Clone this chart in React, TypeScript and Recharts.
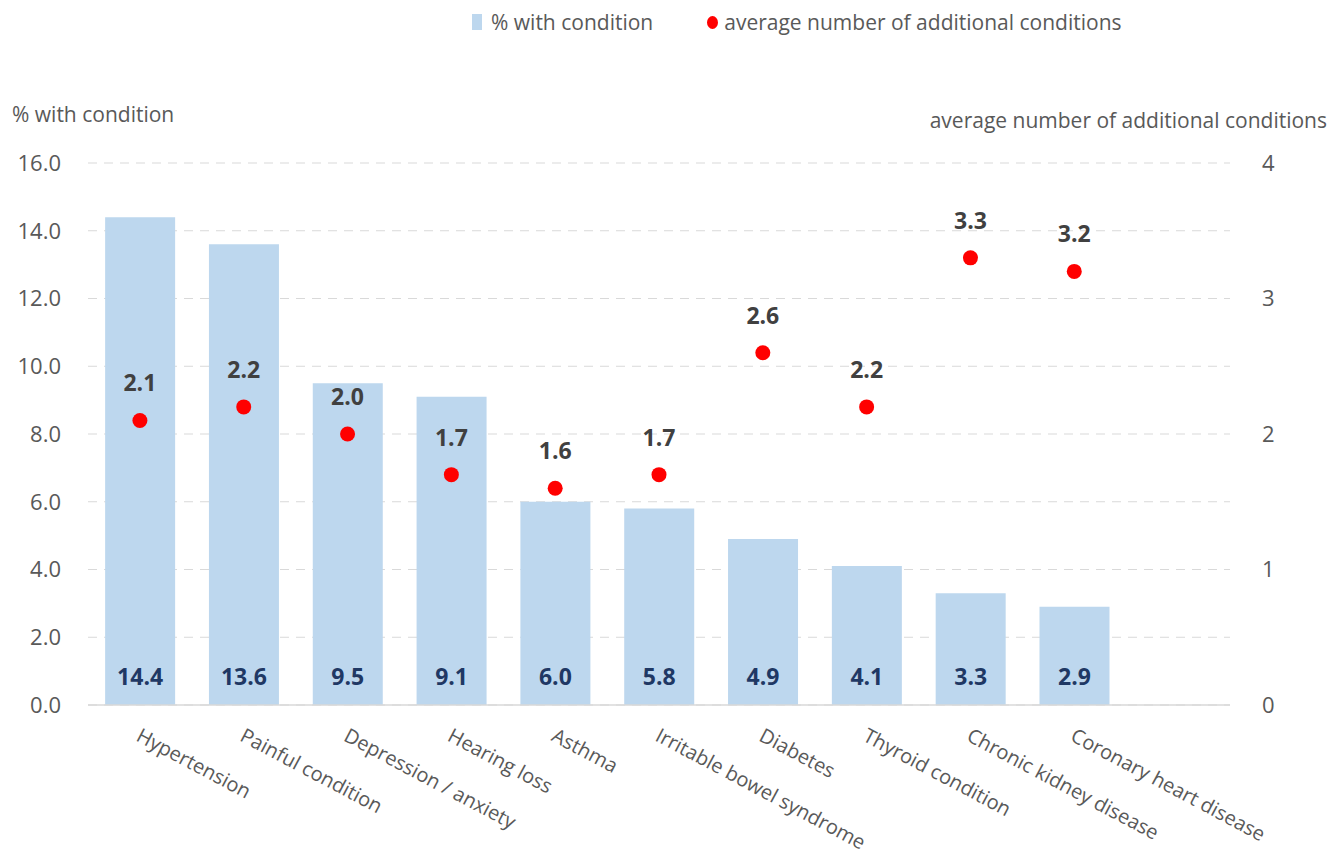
import React from "react"
import { ComposedChart, Bar, Line, XAxis, YAxis, CartesianGrid, Legend, LabelList } from "recharts"

const categories = [
  "Hypertension",
  "Painful condition",
  "Depression / anxiety",
  "Hearing loss",
  "Asthma",
  "Irritable bowel syndrome",
  "Diabetes",
  "Thyroid condition",
  "Chronic kidney disease",
  "Coronary heart disease",
]
const pctWithCondition = [14.4, 13.6, 9.5, 9.1, 6.0, 5.8, 4.9, 4.1, 3.3, 2.9]
const avgAdditional = [2.1, 2.2, 2.0, 1.7, 1.6, 1.7, 2.6, 2.2, 3.3, 3.2]
const leftTicks = [0, 2, 4, 6, 8, 10, 12, 14, 16]
const rightTicks = [0, 1, 2, 3, 4]

const BAR_NAME = "% with condition"
const DOT_NAME = "average number of additional conditions"

// one blank slot at the end keeps the empty gap before the right axis
const data = [
  ...categories.map((name, i) => ({ name, pct: pctWithCondition[i], avg: avgAdditional[i] })),
  { name: "", pct: null, avg: null },
]

const FONT = "'Open Sans', 'Noto Sans', sans-serif"
const GREY = "#595959"

const CategoryTick = ({ x, y, payload }: any) => {
  if (!payload?.value) return null
  const tx = x - 5
  const ty = y + 27
  return (
    <text
      x={tx}
      y={ty}
      transform={`rotate(28 ${tx} ${ty})`}
      textAnchor="start"
      fill={GREY}
      fontSize={20}
      fontFamily={FONT}
    >
      {payload.value}
    </text>
  )
}

const RedDot = ({ cx, cy, value }: any) => {
  if (value == null || cy == null) return <g />
  return <circle cx={cx} cy={cy} r={7.5} fill="#FF0000" />
}

const BarValue = ({ x, y, width, height, value }: any) => {
  if (value == null) return null
  return (
    <text
      x={x + width / 2}
      y={y + height - 20}
      textAnchor="middle"
      fill="#1F3864"
      fontSize={23}
      fontWeight="bold"
      fontFamily={FONT}
    >
      {value.toFixed(1)}
    </text>
  )
}

const DotValue = ({ x, y, value }: any) => {
  if (value == null) return null
  return (
    <text
      x={x}
      y={y - 29}
      textAnchor="middle"
      fill="#404040"
      fontSize={23}
      fontWeight="bold"
      fontFamily={FONT}
    >
      {value.toFixed(1)}
    </text>
  )
}

const TopLegend = () => (
  <div
    style={{
      display: "flex",
      alignItems: "center",
      paddingLeft: 472,
      fontFamily: FONT,
      fontSize: 21,
      color: GREY,
      lineHeight: "24px",
    }}
  >
    <span style={{ display: "inline-block", width: 10, height: 16, background: "#BDD7EE", marginRight: 9 }} />
    <span>{BAR_NAME}</span>
    <span
      style={{
        display: "inline-block",
        width: 11,
        height: 13,
        borderRadius: "50%",
        background: "#FF0000",
        marginLeft: 54,
        marginRight: 6,
      }}
    />
    <span>{DOT_NAME}</span>
  </div>
)

export default function App() {
  return (
    <div style={{ position: "absolute", left: 0, top: 0, background: "#fff" }}>
      <ComposedChart
        width={1330}
        height={858}
        data={data}
        margin={{ top: 139, right: 0, bottom: 0, left: 0 }}
        barCategoryGap="16.5%"
      >
        <CartesianGrid vertical={false} yAxisId="left" stroke="#D9D9D9" strokeDasharray="9 7" />
        <XAxis
          dataKey="name"
          axisLine={{ stroke: "#D9D9D9", strokeWidth: 1.5 }}
          tickLine={false}
          height={153}
          interval={0}
          tick={<CategoryTick />}
        />
        <YAxis
          yAxisId="left"
          orientation="left"
          width={88}
          domain={[0, 16]}
          ticks={leftTicks}
          tickFormatter={(v: number) => v.toFixed(1)}
          axisLine={false}
          tickLine={false}
          tickMargin={21}
          tick={{ fill: GREY, fontSize: 22, fontFamily: FONT }}
          label={{
            content: ({ viewBox }: any) => (
              <text x={12} y={viewBox.y - 41} fill={GREY} fontSize={21} fontFamily={FONT}>
                {BAR_NAME}
              </text>
            ),
          }}
        />
        <YAxis
          yAxisId="right"
          orientation="right"
          width={100}
          domain={[0, 4]}
          ticks={rightTicks}
          axisLine={false}
          tickLine={false}
          tickMargin={26}
          tick={{ fill: GREY, fontSize: 22, fontFamily: FONT, textAnchor: "start" }}
          label={{
            content: ({ viewBox }: any) => (
              <text x={1327} y={viewBox.y - 35} textAnchor="end" fill={GREY} fontSize={21} fontFamily={FONT}>
                {DOT_NAME}
              </text>
            ),
          }}
        />
        <Legend verticalAlign="top" wrapperStyle={{ top: 10, left: 0 }} content={<TopLegend />} />
        <Bar yAxisId="left" dataKey="pct" name={BAR_NAME} fill="#BDD7EE" isAnimationActive={false}>
          <LabelList dataKey="pct" content={<BarValue />} />
        </Bar>
        <Line
          yAxisId="right"
          dataKey="avg"
          name={DOT_NAME}
          stroke="none"
          strokeWidth={0}
          dot={<RedDot />}
          activeDot={false}
          isAnimationActive={false}
        >
          <LabelList dataKey="avg" content={<DotValue />} />
        </Line>
      </ComposedChart>
    </div>
  )
}
